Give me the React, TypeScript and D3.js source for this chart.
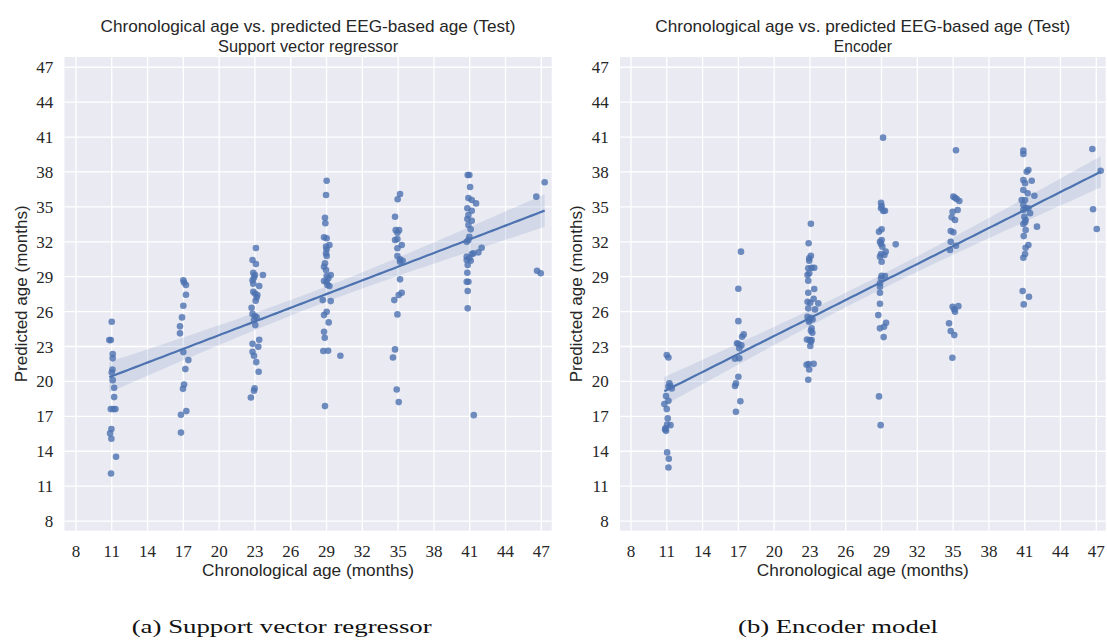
import React from 'react';
import * as d3 from 'd3';

type Pt = [number, number];

const tickValues = [8, 11, 14, 17, 20, 23, 26, 29, 32, 35, 38, 41, 44, 47];
const mainTitle = 'Chronological age vs. predicted EEG-based age (Test)';
const xLabel = 'Chronological age (months)';
const yLabel = 'Predicted age (months)';

// Support vector regressor: [chronological age (jittered), predicted age]
const svrPoints: Pt[] = [
  [11.0, 25.13], [10.8, 23.55], [10.92, 23.55], [11.08, 22.35], [11.08, 21.98], [11.06, 21.03], [11.0, 20.77],
  [11.08, 20.11], [11.2, 19.45], [11.2, 18.65], [10.92, 17.62], [11.14, 17.62], [11.31, 17.62], [10.97, 15.9],
  [10.86, 15.53], [10.97, 15.07], [11.36, 13.52], [10.94, 12.09],
  [17.0, 28.7], [17.06, 28.5], [17.22, 28.28], [17.22, 27.45], [17.0, 26.5], [16.89, 25.5], [16.72, 24.73],
  [16.72, 24.13], [17.0, 22.52], [17.42, 21.83], [17.17, 21.06], [17.06, 19.74], [16.97, 19.36], [17.25, 17.45],
  [16.8, 17.13], [16.8, 15.6],
  [23.08, 31.46], [22.8, 30.43], [23.08, 30.09], [22.86, 29.34], [23.0, 29.14], [22.92, 28.94], [23.67, 29.14],
  [22.8, 28.7], [22.86, 28.4], [23.36, 28.2], [22.86, 27.7], [23.0, 27.56], [23.2, 27.42], [23.14, 27.22],
  [23.06, 26.93], [22.72, 26.33], [22.8, 25.8], [23.0, 25.62], [23.14, 25.5], [22.92, 25.27], [23.03, 24.84],
  [23.36, 23.58], [22.8, 23.23], [23.28, 22.98], [22.8, 22.55], [22.92, 22.2], [23.11, 21.66], [23.31, 20.83],
  [22.97, 19.4], [22.92, 19.2], [22.66, 18.62],
  [29.01, 37.25], [28.96, 36.02], [28.87, 34.07], [28.9, 33.59], [28.79, 32.38], [29.01, 32.3], [29.24, 31.72],
  [28.96, 31.58], [29.01, 31.35], [28.96, 31.0], [29.01, 30.78], [28.87, 30.15], [28.79, 29.85], [28.96, 29.57],
  [29.35, 29.14], [29.01, 29.05], [29.15, 28.86], [28.79, 28.62], [29.01, 28.56], [29.07, 28.28], [29.24, 28.2],
  [28.68, 26.99], [29.35, 26.9], [29.01, 25.99], [28.79, 25.7], [29.18, 25.07], [28.79, 24.27], [28.85, 23.75],
  [28.73, 22.61], [29.13, 22.63], [30.16, 22.2], [28.87, 17.88],
  [35.16, 36.1], [34.96, 35.65], [34.74, 34.15], [34.8, 33.0], [35.08, 33.0], [34.94, 32.78], [34.74, 32.15],
  [34.94, 32.24], [35.3, 31.72], [34.94, 31.44], [34.94, 30.78], [35.16, 30.49], [35.38, 30.37], [35.16, 30.29],
  [35.16, 28.77], [35.3, 27.62], [35.05, 27.42], [34.68, 26.99], [34.94, 25.76], [34.74, 22.75], [34.57, 22.06],
  [34.88, 19.31], [35.05, 18.22],
  [40.83, 37.74], [40.97, 37.74], [41.03, 36.71], [40.89, 35.76], [41.17, 35.59], [41.53, 35.3], [40.8, 34.88],
  [41.17, 34.67], [40.89, 34.3], [40.8, 33.96], [41.17, 33.81], [40.89, 33.44], [41.08, 33.07], [40.97, 32.43],
  [40.89, 32.15], [40.75, 32.0], [42.0, 31.49], [41.73, 31.09], [41.31, 31.0], [41.17, 30.95], [40.75, 30.72],
  [40.97, 30.58], [40.75, 30.43], [41.08, 30.37], [40.83, 30.0], [40.8, 29.34], [40.75, 28.56], [40.89, 28.56],
  [40.83, 27.77], [40.83, 26.28], [41.34, 17.1],
  [47.28, 37.11], [46.58, 35.88], [46.64, 29.51], [46.95, 29.29],
];

// Encoder model
const encPoints: Pt[] = [
  [11.0, 22.26], [11.14, 22.06], [11.22, 19.83], [11.31, 19.6], [11.42, 19.4], [11.14, 19.54], [10.94, 18.74],
  [11.14, 18.33], [10.8, 18.05], [11.0, 17.62], [11.08, 16.82], [11.03, 16.3], [11.31, 16.24], [10.89, 15.96],
  [10.94, 15.75], [10.86, 15.87], [11.03, 13.9], [11.17, 13.35], [11.14, 12.6],
  [17.22, 31.15], [17.0, 27.96], [17.0, 25.18], [17.45, 24.04], [17.31, 23.84], [16.89, 23.27], [17.0, 23.21],
  [17.25, 23.1], [17.08, 22.84], [16.72, 21.95], [17.08, 21.98], [17.0, 20.4], [16.8, 19.83], [16.72, 19.6],
  [17.17, 18.3], [16.8, 17.39],
  [23.08, 33.55], [22.89, 31.87], [23.08, 30.8], [22.94, 30.58], [22.94, 30.37], [22.86, 29.72], [23.14, 29.77],
  [23.36, 29.77], [22.94, 29.29], [22.8, 29.14], [22.86, 28.65], [23.36, 27.94], [22.86, 27.62], [23.31, 27.1],
  [22.8, 26.85], [23.03, 26.76], [23.7, 26.71], [22.86, 26.28], [23.42, 26.19], [22.8, 25.56], [23.08, 25.47],
  [22.94, 25.27], [23.22, 25.33], [22.92, 25.13], [23.14, 24.56], [23.08, 24.35], [23.2, 24.18], [22.75, 23.6],
  [22.97, 23.55], [23.14, 23.55], [23.08, 23.4], [23.03, 23.04], [22.72, 21.43], [22.89, 21.49], [23.31, 21.51],
  [22.94, 21.03], [22.86, 20.14],
  [29.13, 40.95], [28.96, 35.36], [29.01, 35.07], [28.96, 34.88], [29.15, 34.64], [29.29, 34.67], [28.79, 32.87],
  [29.01, 33.07], [28.87, 32.0], [29.01, 32.15], [28.96, 31.81], [29.07, 31.58], [30.19, 31.78], [28.96, 30.95],
  [29.35, 31.15], [28.87, 30.72], [29.24, 30.86], [29.01, 30.29], [29.01, 29.08], [29.29, 29.05], [28.96, 28.86],
  [28.87, 28.43], [28.87, 28.14], [28.87, 27.62], [28.87, 26.67], [28.73, 25.7], [29.38, 25.04], [29.21, 24.7],
  [28.87, 24.56], [29.18, 23.81], [28.79, 18.71], [28.93, 16.24],
  [35.24, 39.86], [35.02, 35.88], [35.16, 35.79], [35.3, 35.68], [35.52, 35.5], [35.38, 34.73], [34.96, 34.58],
  [34.88, 34.1], [35.16, 33.87], [34.8, 32.93], [35.02, 32.81], [34.8, 32.0], [35.24, 31.66], [34.74, 31.29],
  [34.96, 26.41], [35.44, 26.47], [35.1, 26.19], [35.16, 25.99], [34.66, 24.99], [34.8, 24.33], [35.1, 23.98],
  [34.94, 22.03],
  [40.89, 39.83], [40.89, 39.55], [41.17, 38.02], [41.31, 38.17], [41.59, 37.25], [40.89, 37.31], [41.03, 37.03],
  [40.89, 36.45], [41.25, 36.17], [41.81, 35.96], [40.75, 35.59], [41.03, 35.59], [40.89, 35.16], [41.08, 34.88],
  [40.89, 34.73], [41.31, 34.88], [41.45, 34.45], [40.97, 34.15], [40.89, 33.53], [41.08, 33.87], [41.03, 33.67],
  [42.03, 33.3], [41.08, 33.01], [40.92, 32.49], [41.31, 31.72], [41.08, 31.49], [41.03, 30.95], [40.89, 30.63],
  [40.83, 27.77], [41.36, 27.28], [40.92, 26.62],
  [46.67, 39.97], [47.37, 38.11], [46.73, 34.79], [47.04, 33.1],
];

const BLUE = '#4c72b0';
const TEXT = '#262626';
const SANS = '"Liberation Sans", Arial, sans-serif';
const SERIF = '"Liberation Serif", "Times New Roman", serif';

function fit(points: Pt[]) {
  const n = points.length;
  const xs = points.map((p) => p[0]);
  const ys = points.map((p) => p[1]);
  const mx = d3.mean(xs)!;
  const my = d3.mean(ys)!;
  let sxx = 0, sxy = 0;
  for (const [x, y] of points) { sxx += (x - mx) ** 2; sxy += (x - mx) * (y - my); }
  const b = sxy / sxx;
  const a = my - b * mx;
  let sse = 0;
  for (const [x, y] of points) sse += (y - a - b * x) ** 2;
  const s = Math.sqrt(sse / (n - 2));
  const t = 1.975;
  const [x0, x1] = d3.extent(xs) as [number, number];
  const grid = d3.range(0, 101).map((i) => x0 + ((x1 - x0) * i) / 100);
  return grid.map((x) => {
    const yh = a + b * x;
    const se = s * Math.sqrt(1 / n + (x - mx) ** 2 / sxx);
    return { x, y: yh, lo: yh - t * se, hi: yh + t * se };
  });
}

interface PanelProps {
  points: Pt[];
  xDomain: [number, number];
  xRange: [number, number];
  subtitle: string;
  subtitleLen: number;
  caption: string;
  captionX: number;
  captionLen: number;
}

function Panel({ points, xDomain, xRange, subtitle, subtitleLen, caption, captionX, captionLen }: PanelProps) {
  const x = d3.scaleLinear().domain(xDomain).range(xRange);
  const y = d3.scaleLinear().domain([7.17, 47.88]).range([530.7, 57]);
  const [left, right] = xRange;
  const top = 57, bottom = 530.7;
  const cx = (left + right) / 2;
  const fitted = fit(points);
  const line = d3.line<{ x: number; y: number }>().x((d) => x(d.x)).y((d) => y(d.y));
  const area = d3
    .area<{ x: number; lo: number; hi: number }>()
    .x((d) => x(d.x))
    .y0((d) => y(d.lo))
    .y1((d) => y(d.hi));
  const yLabelX = left - 37.8;
  return (
    <g>
      <rect x={left} y={top} width={right - left} height={bottom - top} fill="#eaeaf2" />
      {tickValues.map((t) => (
        <line key={'gx' + t} x1={x(t)} x2={x(t)} y1={top} y2={bottom} stroke="#fff" strokeWidth={1.3} />
      ))}
      {tickValues.map((t) => (
        <line key={'gy' + t} x1={left} x2={right} y1={y(t)} y2={y(t)} stroke="#fff" strokeWidth={1.3} />
      ))}
      <path d={area(fitted) || ''} fill={BLUE} fillOpacity={0.15} />
      {points.map((p, i) => (
        <circle key={i} cx={x(p[0])} cy={y(p[1])} r={3.3} fill={BLUE} fillOpacity={0.8} />
      ))}
      <path d={line(fitted) || ''} fill="none" stroke={BLUE} strokeWidth={2.2} />
      {tickValues.map((t) => (
        <text key={'tx' + t} x={x(t)} y={556.5} textAnchor="middle" fontFamily={SERIF} fontSize={17} fill={TEXT}>
          {t}
        </text>
      ))}
      {tickValues.map((t) => (
        <text key={'ty' + t} x={left - 11.2} y={y(t) + 6} textAnchor="end" fontFamily={SERIF} fontSize={17} fill={TEXT}>
          {t}
        </text>
      ))}
      <text x={cx} y={31.5} textAnchor="middle" fontFamily={SANS} fontSize={17} fill={TEXT} textLength={415} lengthAdjust="spacingAndGlyphs">
        {mainTitle}
      </text>
      <text x={cx} y={51.5} textAnchor="middle" fontFamily={SANS} fontSize={17} fill={TEXT} textLength={subtitleLen} lengthAdjust="spacingAndGlyphs">
        {subtitle}
      </text>
      <text x={cx} y={575.5} textAnchor="middle" fontFamily={SANS} fontSize={17} fill={TEXT} textLength={212} lengthAdjust="spacingAndGlyphs">
        {xLabel}
      </text>
      <text
        transform={`translate(${yLabelX},${(top + bottom) / 2}) rotate(-90)`}
        textAnchor="middle"
        fontFamily={SANS}
        fontSize={17}
        fill={TEXT}
        textLength={177}
        lengthAdjust="spacingAndGlyphs"
      >
        {yLabel}
      </text>
      <text x={captionX} y={632.5} textAnchor="middle" fontFamily={SERIF} fontSize={19} fill="#111" textLength={captionLen} lengthAdjust="spacingAndGlyphs">
        {caption}
      </text>
    </g>
  );
}

export default function App() {
  return (
    <svg width={1107} height={641} style={{ position: 'absolute', left: 0, top: 0, background: '#fff' }}>
      <Panel
        points={svrPoints}
        xDomain={[7.04, 47.87]}
        xRange={[64.5, 551.7]}
        subtitle="Support vector regressor"
        subtitleLen={180}
        caption="(a) Support vector regressor"
        captionX={281.7}
        captionLen={300}
      />
      <Panel
        points={encPoints}
        xDomain={[7.08, 47.79]}
        xRange={[620, 1105.7]}
        subtitle="Encoder"
        subtitleLen={58}
        caption="(b) Encoder model"
        captionX={838}
        captionLen={200}
      />
    </svg>
  );
}
